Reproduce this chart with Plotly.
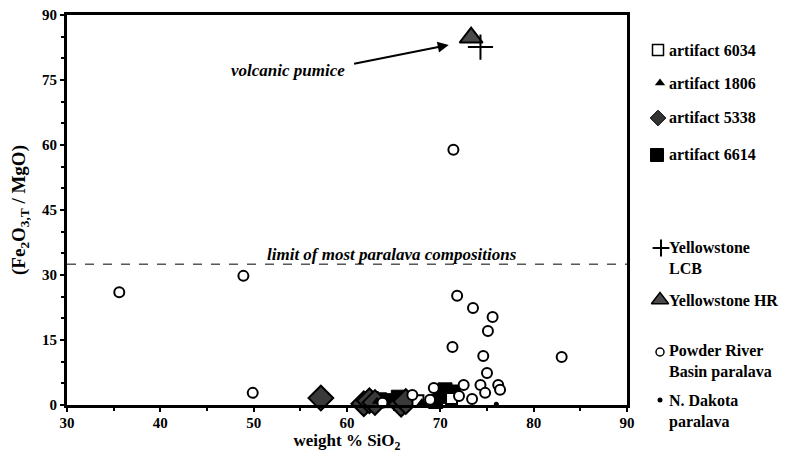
import plotly.graph_objects as go

# ---------------- data ----------------
prb_x = [35.6, 48.9, 49.9, 71.4, 71.8, 71.3, 73.5, 75.6, 75.1, 74.6, 83.0, 75.0,
         76.2, 76.4, 74.3, 74.8, 72.5, 72.0, 73.4, 69.3, 68.9, 67.0, 63.8]
prb_y = [26.0, 29.8, 2.8, 58.9, 25.2, 13.4, 22.4, 20.3, 17.1, 11.3, 11.1, 7.4,
         4.6, 3.5, 4.6, 2.8, 4.6, 2.1, 1.4, 3.9, 1.2, 2.3, 0.5]

a5338_x = [57.2, 61.8, 62.4, 63.0, 65.8, 66.3]
a5338_y = [1.6, 0.3, 1.0, 0.6, 0.2, 0.8]

a6614_x = [62.6, 63.5, 64.8, 65.5, 66.2, 69.5, 70.0, 70.5, 71.0, 71.4]
a6614_y = [1.5, 1.2, 1.0, 1.8, 1.2, 0.8, 2.5, 3.5, 2.0, 3.0]

a6034_x = [67.6, 71.2]
a6034_y = [1.0, 1.5]

a1806_x = [63.2, 68.0]
a1806_y = [0.8, 0.5]

nd_x = [60.8, 64.5, 68.3, 76.0]
nd_y = [0.3, 0.2, 0.3, 0.2]

lcb_x = [74.3]
lcb_y = [82.6]

hr_x = [73.3]
hr_y = [84.8]

limit_value = 32.5

legend_labels = ["artifact 6034", "artifact 1806", "artifact 5338", "artifact 6614",
                 "Yellowstone<br>LCB", "Yellowstone HR", "Powder River<br>Basin paralava",
                 "N. Dakota<br>paralava"]

# ---------------- styling ----------------
W, H = 787, 473
OFF = 8               # page body margin: window px = figure px + OFF
FONT = "Liberation Serif"

# desired positions in window pixels -> figure pixels
X0, X1 = 67 - OFF, 627 - OFF
Y0, Y1 = 15 - OFF, 405 - OFF

fig = go.Figure()

fig.add_trace(go.Scatter(x=nd_x, y=nd_y, mode="markers",
                         marker=dict(symbol="circle", size=5, color="black"),
                         cliponaxis=False, showlegend=False))
fig.add_trace(go.Scatter(x=a6614_x, y=a6614_y, mode="markers",
                         marker=dict(symbol="square", size=14, color="black",
                                     line=dict(color="black", width=1)),
                         cliponaxis=False, showlegend=False))
fig.add_trace(go.Scatter(x=a5338_x, y=a5338_y, mode="markers",
                         marker=dict(symbol="diamond", size=19, color="#3a3a3a",
                                     line=dict(color="black", width=2)),
                         cliponaxis=False, showlegend=False))
fig.add_trace(go.Scatter(x=a6034_x, y=a6034_y, mode="markers",
                         marker=dict(symbol="square", size=11, color="white",
                                     line=dict(color="black", width=2)),
                         cliponaxis=False, showlegend=False))
fig.add_trace(go.Scatter(x=a1806_x, y=a1806_y, mode="markers",
                         marker=dict(symbol="triangle-up", size=9, color="black"),
                         cliponaxis=False, showlegend=False))
fig.add_trace(go.Scatter(x=prb_x, y=prb_y, mode="markers",
                         marker=dict(symbol="circle", size=10, color="white",
                                     line=dict(color="black", width=2)),
                         cliponaxis=False, showlegend=False))
fig.add_trace(go.Scatter(x=hr_x, y=hr_y, mode="markers",
                         marker=dict(symbol="triangle-up", size=20, color="#4a4a4a",
                                     line=dict(color="black", width=2)),
                         cliponaxis=False, showlegend=False))
fig.add_trace(go.Scatter(x=lcb_x, y=lcb_y, mode="markers",
                         marker=dict(symbol="cross-thin", size=18,
                                     line=dict(color="black", width=2)),
                         cliponaxis=False, showlegend=False))

# ---- manual legend (keys on a full-figure pixel axis, window coords) ----
leg_key_x = [658, 660, 658, 657, 661, 660, 660, 660]
leg_key_y = [50, 83, 118, 155, 248, 300, 352, 400]
leg_sym = ["square", "triangle-up", "diamond", "square", "cross-thin",
           "triangle-up", "circle", "circle"]
leg_size = [11, 9, 12, 13, 12, 15, 8, 5]
leg_fill = ["white", "black", "#333333", "black", "black", "#4a4a4a", "white", "black"]
leg_lw = [1.5, 0, 1, 1, 2, 1.5, 1.5, 0]
for kx, ky, s, sz, fc, lw in zip(leg_key_x, leg_key_y, leg_sym, leg_size, leg_fill, leg_lw):
    fig.add_trace(go.Scatter(x=[kx - OFF], y=[ky - OFF], xaxis="x2", yaxis="y2",
                             mode="markers",
                             marker=dict(symbol=s, size=sz, color=fc,
                                         line=dict(color="black", width=lw)),
                             cliponaxis=False, showlegend=False, hoverinfo="skip"))

annotations = []
leg_text_y = [50, 83, 118, 155, 258, 300, 361, 411]
for lab, ty in zip(legend_labels, leg_text_y):
    annotations.append(dict(x=(667 - OFF) / W, y=1 - (ty - OFF) / H,
                            xref="paper", yref="paper",
                            text="<b>" + lab + "</b>", showarrow=False,
                            xanchor="left", yanchor="middle", align="left",
                            font=dict(family=FONT, size=16, color="black")))

annotations.append(dict(x=64.8, y=limit_value, xref="x", yref="y", yanchor="bottom",
                        text="<b><i>limit of most paralava compositions</i></b>",
                        showarrow=False,
                        font=dict(family=FONT, size=17, color="black"), yshift=-2))
annotations.append(dict(x=70.9, y=83.1, xref="x", yref="y", ax=60.6, ay=78.7,
                        axref="x", ayref="y", text="", showarrow=True,
                        arrowhead=2, arrowsize=1.1, arrowwidth=2, arrowcolor="black"))
annotations.append(dict(x=53.7, y=77.1, xref="x", yref="y",
                        text="<b><i>volcanic pumice</i></b>", showarrow=False,
                        font=dict(family=FONT, size=17, color="black")))

fig.add_shape(type="line", x0=30, x1=90, y0=limit_value, y1=limit_value,
              xref="x", yref="y", line=dict(color="black", width=1, dash="dash"))

axis_common = dict(showline=True, linewidth=3, linecolor="black", mirror=True,
                   showgrid=False, zeroline=False, ticks="outside", ticklen=4,
                   tickwidth=2, tickcolor="black", automargin=False,
                   ticklabeloverflow="allow",
                   tickfont=dict(family=FONT, size=15, color="black", weight="bold"))

fig.update_layout(
    template="none",
    width=W, height=H,
    margin=dict(l=0, r=0, t=0, b=0, autoexpand=False),
    paper_bgcolor="white", plot_bgcolor="rgba(0,0,0,0)",
    font=dict(family=FONT, color="black"),
    xaxis=dict(range=[30, 90], dtick=10, tick0=30,
               domain=[X0 / W, X1 / W], anchor="y",
               ticklabelstandoff=-2,
               minor=dict(dtick=5, ticks="outside", ticklen=3, tickwidth=2, tickcolor="black"),
               title=dict(text="<b>weight % SiO<sub>2</sub></b>", standoff=4,
                          font=dict(family=FONT, size=17, color="black")),
               **axis_common),
    yaxis=dict(range=[0, 90], dtick=15, tick0=0,
               domain=[1 - Y1 / H, 1 - Y0 / H], anchor="x",
               minor=dict(dtick=5, ticks="outside", ticklen=3, tickwidth=2, tickcolor="black"),
               title=dict(text="<b>(Fe<sub>2</sub>O<sub>3,T</sub> / MgO)</b>", standoff=12,
                          font=dict(family=FONT, size=19, color="black")),
               **axis_common),
    xaxis2=dict(range=[0, W], domain=[0, 1], anchor="y2", visible=False,
                fixedrange=True, automargin=False),
    yaxis2=dict(range=[H, 0], domain=[0, 1], anchor="x2", visible=False,
                fixedrange=True, automargin=False),
    annotations=annotations,
    showlegend=False,
)

fig.write_html("out.html")
